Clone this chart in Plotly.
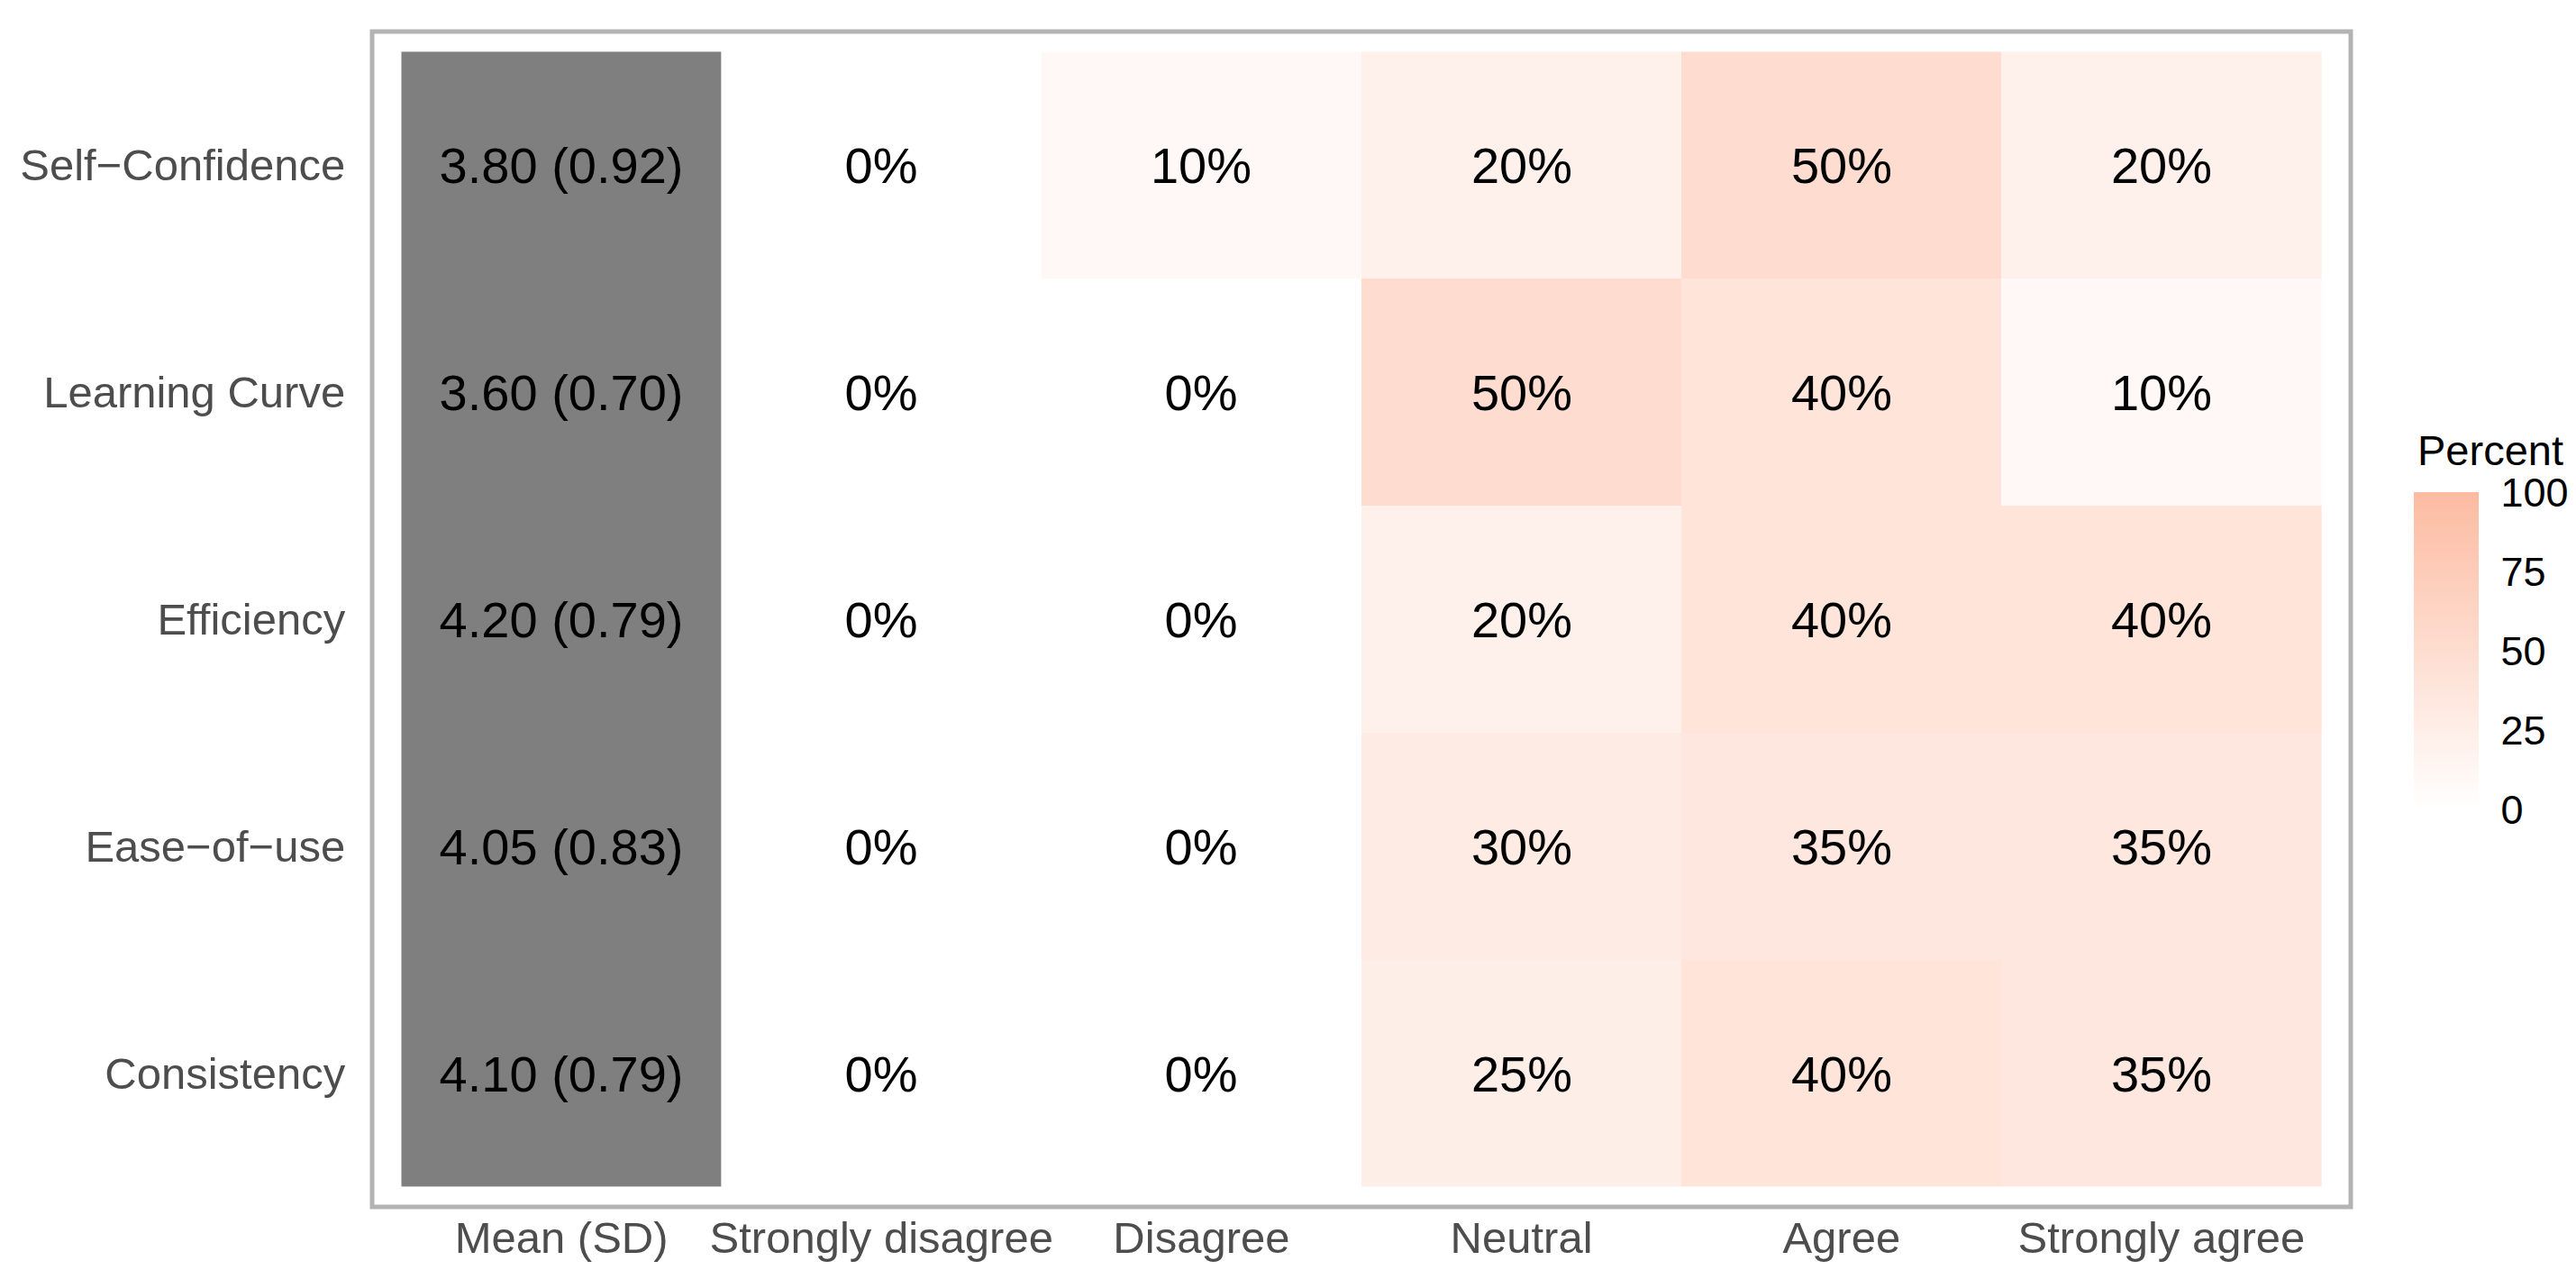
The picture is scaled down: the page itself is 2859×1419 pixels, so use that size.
import plotly.graph_objects as go

categories = ["Self−Confidence", "Learning Curve", "Efficiency", "Ease−of−use", "Consistency"]
responses = ["Strongly disagree", "Disagree", "Neutral", "Agree", "Strongly agree"]
mean_label = "Mean (SD)"

strongly_disagree = [0, 0, 0, 0, 0]
disagree = [10, 0, 0, 0, 0]
neutral = [20, 50, 20, 30, 25]
agree = [50, 40, 40, 35, 40]
strongly_agree = [20, 10, 40, 35, 35]

means = [3.80, 3.60, 4.20, 4.05, 4.10]
sds = [0.92, 0.70, 0.79, 0.83, 0.79]

series = [strongly_disagree, disagree, neutral, agree, strongly_agree]
col_labels = [mean_label] + responses
x_mean = [0]
x_resp = list(range(1, len(responses) + 1))
y_pos = list(range(len(categories)))

z = [[s[i] for s in series] for i in range(len(categories))]
ztext = [[f"{s[i]}%" for s in series] for i in range(len(categories))]
mean_text = [[f"{m:.2f} ({s:.2f})"] for m, s in zip(means, sds)]
mean_z = [[1] for _ in categories]

FONT = "Liberation Sans, Arial, sans-serif"

fig = go.Figure()
fig.add_trace(go.Heatmap(
    x=x_mean, y=y_pos, z=mean_z,
    text=mean_text, texttemplate="%{text}",
    textfont=dict(size=56, color="black", family=FONT),
    colorscale=[[0, "#7F7F7F"], [1, "#7F7F7F"]],
    showscale=False, hoverinfo="skip", xgap=0, ygap=0,
))
fig.add_trace(go.Heatmap(
    x=x_resp, y=y_pos, z=z,
    text=ztext, texttemplate="%{text}",
    textfont=dict(size=56, color="black", family=FONT),
    colorscale=[[0, "#FFFFFF"], [1, "#FCBBA1"]],
    zmin=0, zmax=100, xgap=0, ygap=0,
    colorbar=dict(
        x=1.0319, xanchor="left", xref="paper", xpad=0, ypad=0,
        y=0.4732, yanchor="middle",
        len=352, lenmode="pixels", thickness=72, thicknessmode="pixels",
        outlinewidth=0,
        tickvals=[0, 25, 50, 75, 100],
        ticks="outside", ticklen=16, tickwidth=2, tickcolor="rgba(0,0,0,0)",
        tickfont=dict(size=45, color="black", family=FONT),
    ),
))

fig.add_annotation(text="Percent", xref="paper", yref="paper", x=1.0328, y=0.644,
                   xanchor="left", yanchor="middle", showarrow=False,
                   font=dict(size=47, color="black", family=FONT))

fig.update_xaxes(
    tickmode="array", tickvals=[0] + x_resp, ticktext=col_labels,
    range=[-0.5915, 5.5915], showgrid=False, zeroline=False, showline=False,
    ticks="", ticklabelstandoff=1,
    tickfont=dict(size=49, color="#4D4D4D", family=FONT),
)
fig.update_yaxes(
    tickmode="array", tickvals=y_pos, ticktext=categories,
    range=[4.589, -0.589], showgrid=False, zeroline=False, showline=False,
    ticks="outside", ticklen=19, tickcolor="rgba(0,0,0,0)",
    tickfont=dict(size=49, color="#4D4D4D", family=FONT),
)
fig.add_shape(type="rect", xref="paper", yref="paper", x0=0, x1=1, y0=0, y1=1,
              line=dict(color="#B3B3B3", width=5), fillcolor="rgba(0,0,0,0)", layer="above")

fig.update_layout(
    width=2859, height=1419,
    margin=dict(l=405, r=258, t=27, b=88, autoexpand=False),
    paper_bgcolor="white", plot_bgcolor="white",
    font=dict(family=FONT),
)
fig.write_html("out.html")
